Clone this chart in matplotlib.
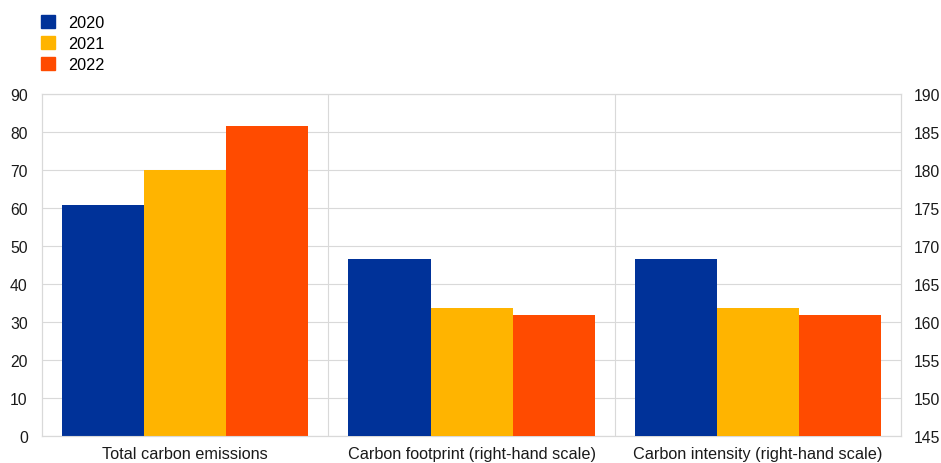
import numpy as np
import matplotlib.pyplot as plt
from matplotlib.patches import Patch

plt.rcParams['font.family'] = ['Liberation Sans', 'DejaVu Sans']

categories = ['Total carbon emissions',
              'Carbon footprint (right-hand scale)',
              'Carbon intensity (right-hand scale)']
years = ['2020', '2021', '2022']
colors = ['#003299', '#FFB400', '#FF4B00']

# left-hand scale
total_emissions = [60.8, 70.0, 81.6]
# right-hand scale
carbon_footprint = [168.3, 161.9, 160.9]
carbon_intensity = [168.3, 161.9, 160.9]

fs = 11.7
fig = plt.figure(figsize=(9.41, 4.64), dpi=100)
ax = fig.add_axes([0.0443, 0.0582, 0.9137, 0.7371])
ax2 = ax.twinx()

x = np.arange(len(categories))
w = 0.86 / 3
right_vals = [carbon_footprint, carbon_intensity]
for k, yr in enumerate(years):
    off = (k - 1) * w
    ax.bar(x[0] + off, total_emissions[k], w, color=colors[k], zorder=3)
    r = [v[k] for v in right_vals]
    ax2.bar(x[1:] + off, np.array(r) - 145, w, bottom=145, color=colors[k], zorder=3)

ax.set_xlim(-0.5, 2.5)
ax.set_ylim(0, 90)
ax.set_yticks(range(0, 91, 10))
ax2.set_ylim(145, 190)
ax2.set_yticks(range(145, 191, 5))
ax.set_xticks(x)
ax.set_xticklabels(categories)

ax.grid(axis='y', color='#d9d9d9', lw=0.8, zorder=0)
for b in [0.5, 1.5]:
    ax.axvline(b, color='#d9d9d9', lw=0.8, zorder=0)

for a in (ax, ax2):
    a.tick_params(length=0, labelsize=11.3, colors='#1a1a1a')
    for s in a.spines.values():
        s.set_color('#d9d9d9')
        s.set_linewidth(0.8)
ax.tick_params(axis='x', pad=7.5, labelsize=fs)
ax.tick_params(axis='y', pad=10)
ax2.tick_params(axis='y', pad=9)

handles = [Patch(color=c) for c in colors]
fig.legend(handles, years, loc='upper left', bbox_to_anchor=(0.0436, 0.966),
           frameon=False, fontsize=fs, handlelength=0.86, handleheight=0.86,
           handletextpad=0.8, labelspacing=0.36, borderaxespad=0, borderpad=0)

plt.savefig('out.png', dpi=100)
